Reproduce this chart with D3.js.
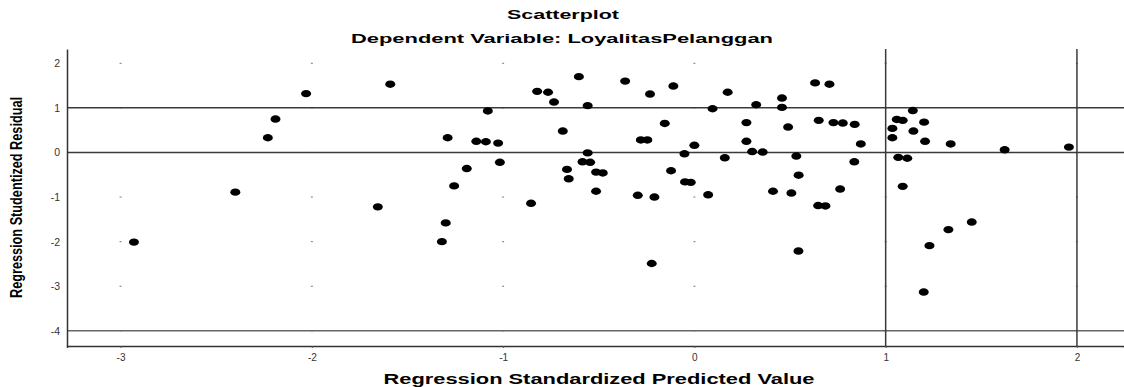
<!DOCTYPE html>
<html>
<head>
<meta charset="utf-8">
<script src="https://cdn.jsdelivr.net/npm/d3@7"></script>
<style>
  body { margin: 0; background: #fff; }
  text { font-family: "Liberation Sans", Arial, sans-serif; }
</style>
</head>
<body>
<div id="chart"></div>
<script>
// Data
const predicted = [
  -2.93, -2.40, -2.23, -2.19, -2.03, -1.59, -1.655, -1.32, -1.30, -1.29,
  -1.256, -1.19, -1.14, -1.09, -1.08, -1.026, -1.017, -0.854, -0.822, -0.765,
  -0.734, -0.688, -0.666, -0.657, -0.604, -0.558, -0.558, -0.585, -0.545, -0.514,
  -0.479, -0.514, -0.362, -0.296, -0.280, -0.246, -0.232, -0.223, -0.209, -0.155,
  -0.122, -0.110, -0.052, -0.049, -0.019, 0.0, 0.072, 0.095, 0.159, 0.174,
  0.272, 0.272, 0.302, 0.323, 0.357, 0.411, 0.458, 0.458, 0.490, 0.507,
  0.533, 0.545, 0.544, 0.631, 0.650, 0.647, 0.685, 0.706, 0.727, 0.762,
  0.776, 0.838, 0.836, 0.870, 1.035, 1.035, 1.058, 1.089, 1.066, 1.113,
  1.089, 1.142, 1.145, 1.201, 1.206, 1.199, 1.229, 1.328, 1.340, 1.450,
  1.622, 1.958
];
const residual = [
  -2.01, -0.89, 0.33, 0.75, 1.32, 1.53, -1.22, -2.00, -1.58, 0.33,
  -0.75, -0.36, 0.25, 0.24, 0.93, 0.21, -0.22, -1.14, 1.37, 1.35,
  1.13, 0.48, -0.38, -0.59, 1.70, 1.05, -0.01, -0.21, -0.22, -0.44,
  -0.46, -0.87, 1.60, -0.96, 0.28, 0.28, 1.31, -2.49, -1.00, 0.65,
  -0.41, 1.49, -0.03, -0.66, -0.67, 0.16, -0.95, 0.98, -0.12, 1.35,
  0.67, 0.25, 0.02, 1.07, 0.01, -0.87, 1.22, 1.01, 0.57, -0.91,
  -0.08, -0.51, -2.21, 1.56, 0.72, -1.19, -1.20, 1.53, 0.67, -0.82,
  0.66, 0.63, -0.21, 0.19, 0.54, 0.33, 0.74, 0.72, -0.11, -0.13,
  -0.76, 0.94, 0.48, 0.68, 0.25, -3.13, -2.09, -1.73, 0.19, -1.56,
  0.06, 0.12
];
const xTicks = [-3, -2, -1, 0, 1, 2];
const yTicks = [-4, -3, -2, -1, 0, 1, 2];
const refX = [1, 2];
const refY = [1, 0, -4];

const titleText = "Scatterplot";
const subtitleText = "Dependent Variable: LoyalitasPelanggan";
const xLabel = "Regression Standardized Predicted Value";
const yLabel = "Regression Studentized Residual";

const svgWidth = 1124;
const svgHeight = 387;
const plot = { left: 67, right: 1124, top: 49, bottom: 346 };

const svg = d3.select("#chart")
  .append("svg")
  .attr("width", svgWidth)
  .attr("height", svgHeight);

const xScale = d3.scaleLinear()
  .domain([-3.28, 2.246])
  .range([plot.left, plot.right]);

const yScale = d3.scaleLinear()
  .domain([-4.34, 2.32])
  .range([plot.bottom, plot.top]);

// Small grid marks at integer crossings
const marks = [];
xTicks.forEach(xv => yTicks.forEach(yv => marks.push([xv, yv])));
svg.append("g")
  .selectAll("rect")
  .data(marks)
  .join("rect")
  .attr("x", d => xScale(d[0]) - 1)
  .attr("y", d => yScale(d[1]) - 0.5)
  .attr("width", 2)
  .attr("height", 1)
  .attr("fill", "#777");

// Reference lines
svg.append("g")
  .selectAll("line")
  .data(refY)
  .join("line")
  .attr("x1", plot.left)
  .attr("x2", plot.right)
  .attr("y1", d => yScale(d))
  .attr("y2", d => yScale(d))
  .attr("stroke", d => d === -4 ? "#666" : "#3a3a3a")
  .attr("stroke-width", 1.5);

svg.append("g")
  .selectAll("line")
  .data(refX)
  .join("line")
  .attr("x1", d => xScale(d))
  .attr("x2", d => xScale(d))
  .attr("y1", plot.top)
  .attr("y2", plot.bottom)
  .attr("stroke", "#3a3a3a")
  .attr("stroke-width", 1.5);

// Axes
const xAxis = svg.append("g")
  .attr("transform", `translate(0,${plot.bottom})`)
  .call(d3.axisBottom(xScale).tickValues(xTicks).tickSize(2).tickPadding(6).tickFormat(d3.format("d")));
xAxis.select(".domain").attr("stroke", "#333").attr("stroke-width", 1.5);
xAxis.selectAll(".tick line").attr("stroke", "#555");
xAxis.selectAll("text").attr("font-size", 10).attr("fill", "#333")
  .text(d => d < 0 ? "-" + Math.abs(d) : d);

const yAxis = svg.append("g")
  .attr("transform", `translate(${plot.left},0)`)
  .call(d3.axisLeft(yScale).tickValues(yTicks).tickSize(0).tickPadding(7).tickFormat(d3.format("d")));
yAxis.select(".domain").attr("stroke", "#333").attr("stroke-width", 1.5);
yAxis.selectAll("text").attr("font-size", 10.5).attr("fill", "#333")
  .text(d => d < 0 ? "-" + Math.abs(d) : d);

// Points
svg.append("g")
  .selectAll("ellipse")
  .data(predicted.map((p, i) => [p, residual[i]]))
  .join("ellipse")
  .attr("cx", d => xScale(d[0]))
  .attr("cy", d => yScale(d[1]))
  .attr("rx", 5)
  .attr("ry", 3.7)
  .attr("fill", "#000");

// Titles
svg.append("text")
  .attr("x", 563).attr("y", 18.5)
  .attr("text-anchor", "middle")
  .attr("font-size", 13).attr("font-weight", "bold")
  .attr("textLength", 112).attr("lengthAdjust", "spacingAndGlyphs")
  .text(titleText);

svg.append("text")
  .attr("x", 562).attr("y", 42.5)
  .attr("text-anchor", "middle")
  .attr("font-size", 13).attr("font-weight", "bold")
  .attr("textLength", 422).attr("lengthAdjust", "spacingAndGlyphs")
  .text(subtitleText);

svg.append("text")
  .attr("x", 599).attr("y", 384)
  .attr("text-anchor", "middle")
  .attr("font-size", 14).attr("font-weight", "bold")
  .attr("textLength", 431).attr("lengthAdjust", "spacingAndGlyphs")
  .text(xLabel);

svg.append("text")
  .attr("transform", `translate(22,${(plot.top + plot.bottom) / 2}) rotate(-90)`)
  .attr("text-anchor", "middle")
  .attr("font-size", 16).attr("font-weight", "bold")
  .attr("textLength", 201).attr("lengthAdjust", "spacingAndGlyphs")
  .text(yLabel);
</script>
</body>
</html>
